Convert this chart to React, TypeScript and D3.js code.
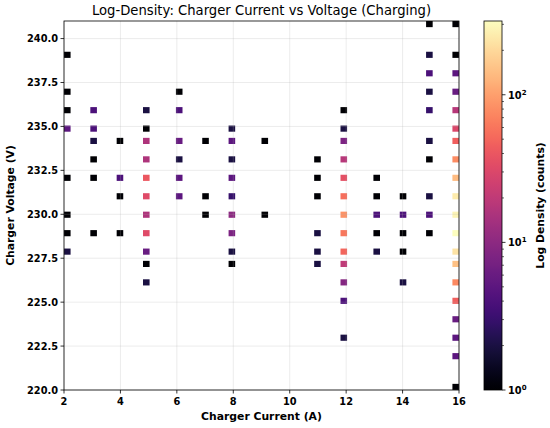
import React from "react";
import * as d3 from "d3";

// ---- data: one entry per non-empty histogram cell ----
const cellCurrent: number[] = [
  // 2 A
  2.1, 2.1, 2.1, 2.1, 2.1, 2.1, 2.1, 2.1,
  // 3 A
  3.0, 3.0, 3.0, 3.0, 3.0, 3.0,
  // 4 A
  4.0, 4.0, 4.0, 4.0,
  // 5 A
  5.0, 5.0, 5.0, 5.0, 5.0, 5.0, 5.0, 5.0, 5.0, 5.0, 5.0,
  // 6 A
  6.1, 6.1, 6.1, 6.1, 6.1, 6.1,
  // 7 A
  7.0, 7.0, 7.0,
  // 8 A
  8.0, 8.0, 8.0, 8.0, 8.0, 8.0, 8.0, 8.0, 8.0,
  // 9 A
  9.1, 9.1,
  // 11 A
  11.0, 11.0, 11.0, 11.0, 11.0, 11.0,
  // 12 A
  12.0, 12.0, 12.0, 12.0, 12.0, 12.0, 12.0, 12.0, 12.0, 12.0, 12.0, 12.0, 12.0,
  // 13 A
  13.1, 13.1, 13.1, 13.1, 13.1,
  // 14 A
  14.0, 14.0, 14.0, 14.0, 14.0,
  // 15 A
  15.0, 15.0, 15.0, 15.0, 15.0, 15.0, 15.0, 15.0, 15.0, 15.0,
  // 16 A
  16.0, 16.0, 16.0, 16.0, 16.0, 16.0, 16.0, 16.0, 16.0, 16.0,
  16.0, 16.0, 16.0, 16.0, 16.0, 16.0, 16.0, 16.0, 16.0, 16.0,
];

const cellVoltage: number[] = [
  239.1, 237.0, 236.0, 234.9, 232.1, 230.0, 229.0, 227.9,
  236.0, 234.9, 234.2, 233.2, 232.1, 229.0,
  234.2, 232.1, 231.0, 229.0,
  236.0, 234.9, 234.2, 233.2, 232.1, 231.0, 230.0, 229.0, 227.9, 227.2, 226.2,
  237.0, 236.0, 234.2, 233.2, 232.1, 231.0,
  234.2, 231.0, 230.0,
  234.9, 234.2, 233.2, 232.1, 231.0, 230.0, 229.0, 227.9, 227.2,
  234.2, 230.0,
  233.2, 232.1, 231.0, 229.0, 227.9, 227.2,
  236.0, 234.9, 234.2, 233.2, 232.1, 231.0, 230.0, 229.0, 227.9, 227.2, 226.2, 225.2, 223.1,
  232.1, 231.0, 230.0, 229.0, 227.9,
  231.0, 230.0, 229.0, 227.9, 226.2,
  240.9, 239.1, 238.1, 237.0, 236.0, 234.2, 233.2, 231.0, 230.0, 229.0,
  240.9, 239.1, 238.1, 237.0, 236.0, 234.9, 234.2, 233.2, 232.1, 231.0,
  230.0, 229.0, 227.9, 227.2, 226.2, 225.2, 224.1, 223.1, 222.0, 220.2,
];

const cellCount: number[] = [
  1, 1, 1, 5, 1, 1, 1, 2,
  4, 4, 2, 1, 1, 1,
  1, 4, 1, 1,
  2, 1, 16, 16, 40, 32, 16, 32, 6, 1, 2,
  1, 4, 6, 2, 5, 5,
  1, 1, 1,
  2, 5, 2, 5, 3, 10, 8, 2, 1,
  1, 1,
  1, 1, 1, 2, 2, 2,
  1, 2, 8, 18, 35, 55, 85, 60, 50, 20, 9, 4, 2,
  1, 1, 4, 1, 2,
  1, 4, 1, 1, 2,
  1, 2, 4, 2, 3, 2, 1, 2, 4, 1,
  1, 1, 5, 6, 18, 30, 45, 80, 140, 250,
  280, 316, 230, 150, 75, 45, 6, 5, 5, 1,
];

const xTicks = [2, 4, 6, 8, 10, 12, 14, 16];
const yTicks = [220, 222.5, 225, 227.5, 230, 232.5, 235, 237.5, 240];
const cbMajor = [1, 10, 100];
const cbExponents = ["0", "1", "2"];

const currentRange: [number, number] = [2, 16];
const voltageRange: [number, number] = [220, 241];
const binCount = 60;

const W = 550;
const H = 428;
const M = { left: 64, right: 459, top: 21, bottom: 390 };
const CB = { left: 484, right: 502 };
const FONT = "DejaVu Sans, sans-serif";

export default function App() {
  const x = d3.scaleLinear().domain(currentRange).range([M.left, M.right]);
  const y = d3.scaleLinear().domain(voltageRange).range([M.bottom, M.top]);
  const maxCount = d3.max(cellCount) as number;
  const color = d3.scaleSequentialLog(d3.interpolateMagma).domain([1, maxCount]);
  const cb = d3.scaleLog().domain([1, maxCount]).range([M.bottom, M.top]);

  const bw = (currentRange[1] - currentRange[0]) / binCount;
  const bh = (voltageRange[1] - voltageRange[0]) / binCount;

  const cells = cellCurrent.map((c, i) => {
    const xi = Math.min(binCount - 1, Math.floor((c - currentRange[0]) / bw));
    const yi = Math.min(binCount - 1, Math.floor((cellVoltage[i] - voltageRange[0]) / bh));
    const x0 = currentRange[0] + xi * bw;
    const y0 = voltageRange[0] + yi * bh;
    return {
      px: x(x0),
      py: y(y0 + bh),
      w: x(x0 + bw) - x(x0),
      h: y(y0) - y(y0 + bh),
      fill: color(cellCount[i]),
    };
  });

  const stops = d3.range(0, 1.0001, 0.02);

  const minor: number[] = [];
  [1, 10, 100].forEach((d) => {
    for (let k = 2; k <= 9; k++) {
      const v = d * k;
      if (v <= maxCount) minor.push(v);
    }
  });

  const gridColor = "#b0b0b0";

  return (
    <svg
      width={W}
      height={H}
      style={{ position: "absolute", left: 0, top: 0, background: "#fff" }}
      fontFamily={FONT}
    >
      <defs>
        <linearGradient id="cbgrad" x1="0" y1="1" x2="0" y2="0">
          {stops.map((t) => (
            <stop key={t} offset={t} stopColor={d3.interpolateMagma(t)} />
          ))}
        </linearGradient>
        <clipPath id="plotclip">
          <rect x={M.left} y={M.top} width={M.right - M.left} height={M.bottom - M.top} />
        </clipPath>
      </defs>

      <text x={(M.left + M.right) / 2} y={15} textAnchor="middle" fontSize={13.2}>
        Log-Density: Charger Current vs Voltage (Charging)
      </text>

      <g clipPath="url(#plotclip)">
        {cells.map((c, i) => (
          <rect key={i} x={c.px} y={c.py} width={c.w} height={c.h} fill={c.fill} />
        ))}
      </g>

      {/* grid */}
      {xTicks.map((t) => (
        <line key={"gx" + t} x1={x(t)} x2={x(t)} y1={M.top} y2={M.bottom} stroke={gridColor} strokeOpacity={0.3} strokeWidth={0.8} />
      ))}
      {yTicks.map((t) => (
        <line key={"gy" + t} x1={M.left} x2={M.right} y1={y(t)} y2={y(t)} stroke={gridColor} strokeOpacity={0.3} strokeWidth={0.8} />
      ))}

      {/* spines */}
      <rect x={M.left} y={M.top} width={M.right - M.left} height={M.bottom - M.top} fill="none" stroke="#000" strokeWidth={0.8} />

      {/* x ticks */}
      {xTicks.map((t) => (
        <g key={"xt" + t}>
          <line x1={x(t)} x2={x(t)} y1={M.bottom} y2={M.bottom + 3.5} stroke="#000" strokeWidth={0.8} />
          <text x={x(t)} y={M.bottom + 15} textAnchor="middle" fontSize={9.8} fontWeight="bold">
            {t}
          </text>
        </g>
      ))}
      {/* y ticks */}
      {yTicks.map((t) => (
        <g key={"yt" + t}>
          <line x1={M.left - 3.5} x2={M.left} y1={y(t)} y2={y(t)} stroke="#000" strokeWidth={0.8} />
          <text x={M.left - 6} y={y(t) + 3.5} textAnchor="end" fontSize={9.8} fontWeight="bold">
            {t.toFixed(1)}
          </text>
        </g>
      ))}

      <text x={(M.left + M.right) / 2} y={420} textAnchor="middle" fontSize={10.8} fontWeight="bold">
        Charger Current (A)
      </text>
      <text
        transform={`translate(14,${(M.top + M.bottom) / 2}) rotate(-90)`}
        textAnchor="middle"
        fontSize={10.8}
        fontWeight="bold"
      >
        Charger Voltage (V)
      </text>

      {/* colorbar */}
      <rect x={CB.left} y={M.top} width={CB.right - CB.left} height={M.bottom - M.top} fill="url(#cbgrad)" />
      <rect x={CB.left} y={M.top} width={CB.right - CB.left} height={M.bottom - M.top} fill="none" stroke="#000" strokeWidth={0.8} />
      {minor.map((v) => (
        <line key={"mn" + v} x1={CB.right} x2={CB.right + 2} y1={cb(v)} y2={cb(v)} stroke="#000" strokeWidth={0.6} />
      ))}
      {cbMajor.map((v, i) => (
        <g key={"cb" + v}>
          <line x1={CB.right} x2={CB.right + 3.5} y1={cb(v)} y2={cb(v)} stroke="#000" strokeWidth={0.8} />
          <text x={CB.right + 6} y={cb(v) + 4} fontSize={9.8} fontWeight="bold">
            10
            <tspan dy={-4} fontSize={7}>
              {cbExponents[i]}
            </tspan>
          </text>
        </g>
      ))}
      <text
        transform={`translate(544,${(M.top + M.bottom) / 2}) rotate(-90)`}
        textAnchor="middle"
        fontSize={10.8}
        fontWeight="bold"
      >
        Log Density (counts)
      </text>
    </svg>
  );
}
